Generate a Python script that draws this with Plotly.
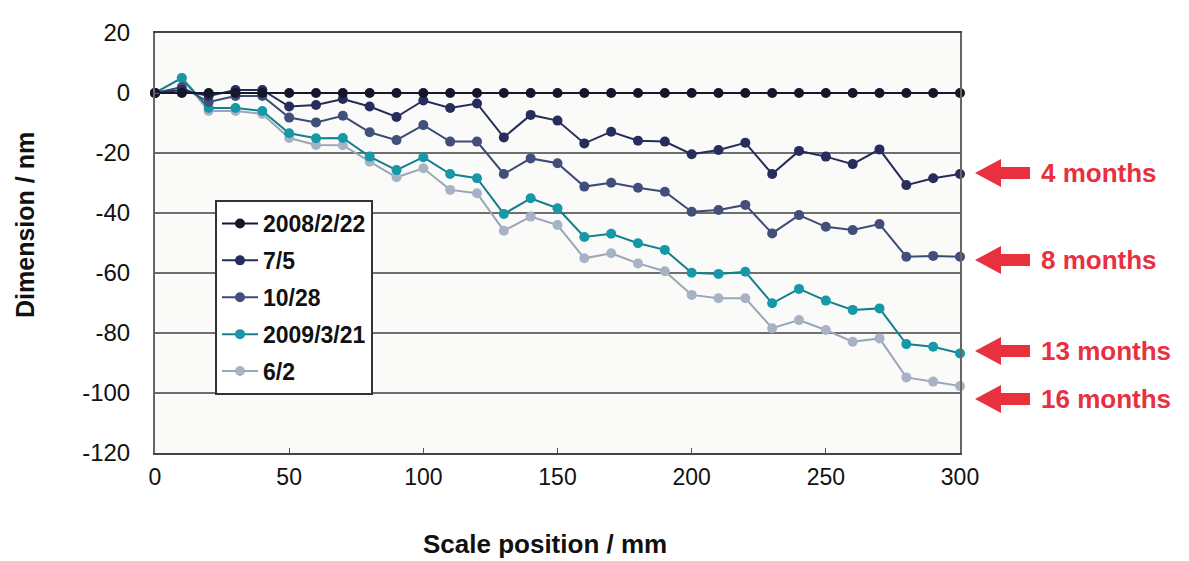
import plotly.graph_objects as go

# ---------------- data ----------------
scale_position_mm = [0, 10, 20, 30, 40, 50, 60, 70, 80, 90, 100, 110, 120, 130, 140, 150,
                     160, 170, 180, 190, 200, 210, 220, 230, 240, 250, 260, 270, 280, 290, 300]

dim_2008_02_22 = [0] * 31
dim_2008_07_05 = [0, 1, -1, 1, 1, -4.5, -4, -2, -4.5, -8, -2.5, -5, -3.5, -14.8, -7.3, -9.2,
                  -16.8, -12.9, -15.9, -16.2, -20.4, -19, -16.6, -27, -19.3, -21.2, -23.7, -18.8,
                  -30.7, -28.4, -27]
dim_2008_10_28 = [0, 2, -3, -1, -1, -8.2, -9.8, -7.6, -13.1, -15.7, -10.7, -16.2, -16.2, -27,
                  -21.8, -23.4, -31.2, -29.9, -31.6, -32.9, -39.6, -39, -37.3, -46.8, -40.7,
                  -44.6, -45.7, -43.7, -54.6, -54.3, -54.6]
dim_2009_03_21 = [0, 5, -5, -5, -6, -13.4, -15.1, -15, -21.2, -25.7, -21.4, -27, -28.4, -40.3,
                  -35.1, -38.4, -48, -46.9, -50.1, -52.3, -59.9, -60.3, -59.6, -70.1, -65.3,
                  -69.2, -72.3, -71.8, -83.7, -84.6, -86.8]
dim_2009_06_02 = [0, 5, -6, -6, -7, -15, -17.3, -17.4, -22.9, -28.1, -25.1, -32.3, -33.4, -45.9,
                  -41.2, -44, -55.1, -53.4, -56.8, -59.4, -67.3, -68.4, -68.4, -78.4, -75.7, -79,
                  -82.9, -81.8, -94.8, -96.2, -97.7]

series_names = ["2008/2/22", "7/5", "10/28", "2009/3/21", "6/2"]
series_values = [dim_2008_02_22, dim_2008_07_05, dim_2008_10_28, dim_2009_03_21, dim_2009_06_02]

y_ticks = [20, 0, -20, -40, -60, -80, -100, -120]
x_ticks = [0, 50, 100, 150, 200, 250, 300]

callout_labels = ["4 months", "8 months", "13 months", "16 months"]
callout_levels = [-26.7, -55.7, -86.0, -102.0]

# ---------------- style ----------------
line_colors = ["#16182e", "#262c58", "#3d4b74", "#14808e", "#9aa6b8"]
marker_colors = ["#14162a", "#262c5c", "#414f7a", "#1598a8", "#a7b3c4"]

W, H = 1189, 561
ML, MR, MT, MB = 155, 229, 33, 108
PW, PH = W - ML - MR, H - MT - MB
YMIN, YMAX = -120, 20
RED = "#e8303f"


def px_x(px):
    return (px - ML) / PW


def dpx_y(dpx):
    return dpx / PH


def val_y(v):
    return (v - YMIN) / (YMAX - YMIN)


fig = go.Figure()

# add in reverse so the first series sits on top; legendrank keeps legend order
for i in reversed(range(len(series_names))):
    fig.add_trace(go.Scatter(
        x=scale_position_mm, y=series_values[i], name=series_names[i],
        mode="lines+markers", legendgroup=f"g{i}", legendrank=i + 1,
        line=dict(color=line_colors[i], width=2),
        marker=dict(color=marker_colors[i], size=10),
        cliponaxis=False,
    ))

shapes = []
annotations = []
for lab, lev in zip(callout_labels, callout_levels):
    yc = val_y(lev)
    xt = px_x(975)
    xb = px_x(1001)
    xe = px_x(1030)
    hh = dpx_y(14)
    sh = dpx_y(6)
    path = (f"M{xt},{yc} L{xb},{yc + hh} L{xb},{yc + sh} L{xe},{yc + sh} "
            f"L{xe},{yc - sh} L{xb},{yc - sh} L{xb},{yc - hh} Z")
    shapes.append(dict(type="path", xref="paper", yref="paper", path=path,
                       fillcolor=RED, line=dict(width=0), layer="above"))
    annotations.append(dict(xref="paper", yref="paper", x=px_x(1039), y=yc,
                            xanchor="left", yanchor="middle", showarrow=False,
                            text=lab, font=dict(family="Liberation Sans", size=26,
                                                color=RED, weight="bold")))

# axis titles
annotations.append(dict(xref="paper", yref="paper", x=px_x(545), y=-(544 - (MT + PH)) / PH,
                        xanchor="center", yanchor="middle", showarrow=False,
                        text="Scale position / mm",
                        font=dict(family="Liberation Sans", size=26,
                                  color="#111", weight="bold")))
annotations.append(dict(xref="paper", yref="paper", x=px_x(25), y=(MT + PH - 225) / PH,
                        xanchor="center", yanchor="middle", showarrow=False, textangle=-90,
                        text="Dimension / nm",
                        font=dict(family="Liberation Sans", size=25, color="#111",
                                  weight="bold")))

fig.update_layout(
    width=W, height=H,
    margin=dict(l=ML, r=MR, t=MT, b=MB, pad=0),
    paper_bgcolor="white",
    plot_bgcolor="#fafaf8",
    showlegend=True,
    legend=dict(
        x=px_x(215), y=(MT + PH - 200) / PH, xanchor="left", yanchor="top",
        bgcolor="white", bordercolor="#333", borderwidth=2,
        font=dict(family="Liberation Sans", size=23, color="#111", weight="bold"),
        traceorder="grouped", tracegroupgap=4, itemwidth=36,
    ),
    shapes=shapes,
    annotations=annotations,
    xaxis=dict(
        range=[0, 300], tickvals=x_ticks, ticktext=[str(v) for v in x_ticks],
        showgrid=False, zeroline=False,
        showline=True, linecolor="#444", linewidth=2, mirror=True,
        ticks="inside", ticklen=5, tickcolor="#555",
        tickfont=dict(family="Liberation Sans", size=23, color="#111"),
        ticklabelstandoff=2,
    ),
    yaxis=dict(
        range=[YMIN, YMAX], tickvals=y_ticks, ticktext=[str(v) for v in y_ticks],
        showgrid=True, gridcolor="#6f6f6f", gridwidth=2, zeroline=False,
        showline=True, linecolor="#666", linewidth=2, mirror=True,
        ticks="inside", ticklen=4, tickcolor="#666",
        tickfont=dict(family="Liberation Sans", size=24, color="#111"),
        ticklabelstandoff=18,
    ),
)

fig.write_html("out.html")
